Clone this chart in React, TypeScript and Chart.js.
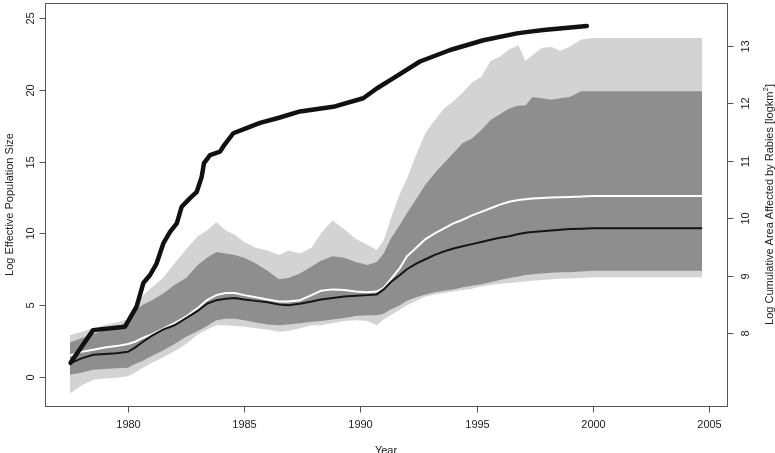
import React, { useEffect, useRef } from "react";
import { Chart, registerables } from "chart.js";

Chart.register(...registerables);

// Common year grid for the posterior bands and median/mean lines
const years = [
  1977.5, 1978, 1978.5, 1979, 1979.5, 1980, 1980.3, 1980.6, 1981, 1981.5, 1982, 1982.5, 1983, 1983.4,
  1983.8, 1984.2, 1984.6, 1985, 1985.5, 1986, 1986.5, 1986.9, 1987.4, 1987.9, 1988.3, 1988.8, 1989.3,
  1989.8, 1990.3, 1990.7, 1991, 1991.3, 1991.7, 1992, 1992.4, 1992.8, 1993.2, 1993.6, 1994, 1994.4,
  1994.8, 1995.2, 1995.6, 1996, 1996.4, 1996.8, 1997.1, 1997.4, 1997.8, 1998.2, 1998.6, 1999, 1999.5,
  2000, 2001, 2002, 2003, 2004, 2004.7,
];

const lightUpper = [
  2.9, 3.15, 3.4, 3.6, 3.8, 4.0, 4.7, 5.6, 6.2, 6.9, 7.9, 8.9, 9.8, 10.2,
  10.8, 10.2, 9.9, 9.4, 9.0, 8.8, 8.5, 8.8, 8.6, 9.0, 10.0, 10.9, 10.3,
  9.6, 9.2, 8.85, 9.5, 11.0, 12.8, 13.8, 15.5, 17.0, 17.9, 18.7, 19.2, 19.8,
  20.5, 20.9, 22.0, 22.3, 22.8, 23.1, 22.0, 22.4, 22.9, 23.0, 22.7, 23.0, 23.5,
  23.6, 23.6, 23.6, 23.6, 23.6, 23.6,
];

const lightLower = [
  -1.15, -0.6, -0.2, -0.1, -0.05, 0.05, 0.3, 0.6, 0.95, 1.35, 1.8, 2.3, 2.95, 3.3,
  3.6, 3.6, 3.55, 3.5, 3.4, 3.3, 3.15, 3.2, 3.4, 3.6, 3.6, 3.75, 3.9,
  3.95, 3.9, 3.6, 4.0, 4.3, 4.7, 5.0, 5.3, 5.6, 5.75, 5.85, 5.95, 6.05,
  6.15, 6.3, 6.4, 6.5, 6.55, 6.6, 6.65, 6.7, 6.75, 6.8, 6.85, 6.85, 6.9,
  6.94, 6.94, 6.94, 6.94, 6.94, 6.94,
];

const darkUpper = [
  2.4, 2.7, 3.0, 3.25, 3.5, 3.8, 4.6, 5.0, 5.3, 5.8, 6.4, 6.9, 7.8, 8.3,
  8.7, 8.6, 8.5, 8.3, 7.9, 7.4, 6.8, 6.9, 7.2, 7.7, 8.1, 8.4, 8.3,
  8.0, 7.8, 8.0, 8.6, 9.6, 10.6, 11.4, 12.4, 13.4, 14.2, 14.9, 15.6, 16.3,
  16.6, 17.2, 17.9, 18.3, 18.7, 18.9, 18.9, 19.5, 19.4, 19.3, 19.4, 19.5, 19.9,
  19.9, 19.9, 19.9, 19.9, 19.9, 19.9,
];

const darkLower = [
  0.15, 0.3, 0.5, 0.55, 0.6, 0.65, 0.9, 1.1, 1.45, 1.85, 2.3, 2.8, 3.2, 3.55,
  3.95, 4.05, 4.05, 3.95, 3.8, 3.65, 3.6, 3.65, 3.75, 3.85, 3.9, 4.0, 4.1,
  4.25, 4.3, 4.3, 4.4, 4.7, 5.0, 5.3, 5.55, 5.75, 5.9, 6.0, 6.1, 6.25,
  6.35, 6.45, 6.6, 6.75, 6.9, 7.0, 7.1, 7.15, 7.2, 7.25, 7.3, 7.3, 7.35,
  7.4, 7.4, 7.4, 7.4, 7.4, 7.4,
];

const whiteLine = [
  1.5, 1.75, 1.9, 2.05, 2.15, 2.3, 2.45, 2.7, 2.95, 3.35, 3.75, 4.2, 4.8, 5.35,
  5.7, 5.85, 5.85, 5.7, 5.55, 5.4, 5.25, 5.25, 5.35, 5.7, 6.0, 6.1, 6.05,
  5.95, 5.9, 5.95, 6.2, 6.8, 7.6, 8.4, 9.0, 9.6, 10.0, 10.35, 10.7, 10.95,
  11.25, 11.5, 11.75, 12.0, 12.2, 12.32, 12.37, 12.42, 12.47, 12.5, 12.52, 12.54, 12.56,
  12.6, 12.6, 12.6, 12.6, 12.6, 12.6,
];

const blackLine = [
  0.95, 1.3, 1.55, 1.6, 1.65, 1.75, 2.05, 2.4, 2.85, 3.3, 3.6, 4.1, 4.6, 5.1,
  5.35, 5.45, 5.5, 5.4, 5.3, 5.2, 5.05, 5.0, 5.1, 5.25, 5.4, 5.5, 5.6,
  5.65, 5.7, 5.75, 6.1, 6.6, 7.1, 7.5, 7.9, 8.2, 8.5, 8.75, 8.95, 9.1,
  9.25, 9.4, 9.55, 9.7, 9.8, 9.95, 10.05, 10.1, 10.15, 10.2, 10.25, 10.3, 10.33,
  10.35, 10.35, 10.35, 10.35, 10.35, 10.35,
];

// Cumulative area affected (right axis)
const areaYears = [
  1977.53, 1978.5, 1979.87, 1980.37, 1980.66, 1980.95, 1981.23, 1981.52, 1981.81, 1982.1, 1982.31,
  1982.67, 1982.96, 1983.17, 1983.27, 1983.53, 1983.96, 1984.1, 1984.53, 1985.1, 1985.68, 1986.5,
  1987.4, 1988.83, 1990.12, 1990.7, 1991.42, 1992.56, 1993.86, 1995.29, 1996.73, 1997.3, 1997.87,
  1999.74,
];
const areaValues = [
  7.48, 8.05, 8.11, 8.46, 8.87, 9.01, 9.21, 9.56, 9.76, 9.91, 10.2,
  10.35, 10.46, 10.72, 10.96, 11.1, 11.16, 11.25, 11.48, 11.57, 11.66, 11.75,
  11.86, 11.94, 12.09, 12.26, 12.44, 12.73, 12.93, 13.1, 13.22, 13.25, 13.28,
  13.35,
];

const xTicks = [1980, 1985, 1990, 1995, 2000, 2005];
const leftTicks = [0, 5, 10, 15, 20, 25];
const rightTicks = [8, 9, 10, 11, 12, 13];

const xTitle = "Year";
const leftTitle = "Log Effective Population Size";
const rightTitleMain = "Log Cumulative Area Affected by Rabies [logkm";
const rightTitleSup = "2";
const rightTitleEnd = "]";

const toPts = (xs: number[], ys: number[]) => xs.map((x, i) => ({ x, y: ys[i] }));

const FONT = "Liberation Sans, Arial, Helvetica, sans-serif";

const axesPlugin = {
  id: "rAxes",
  afterDraw(chart: any) {
    const { ctx, chartArea } = chart;
    const sx = chart.scales.x;
    const sy = chart.scales.y;
    const sy1 = chart.scales.y1;
    ctx.save();
    ctx.strokeStyle = "#555";
    ctx.lineWidth = 1;
    ctx.strokeRect(
      Math.round(chartArea.left) + 0.5,
      Math.round(chartArea.top) + 0.5,
      Math.round(chartArea.right - chartArea.left),
      Math.round(chartArea.bottom - chartArea.top)
    );
    const tl = 6;
    ctx.fillStyle = "#222";
    ctx.font = `11px ${FONT}`;
    ctx.textAlign = "center";
    ctx.textBaseline = "middle";
    // x ticks
    const bottom = Math.round(chartArea.bottom) + 0.5;
    xTicks.forEach((t) => {
      const px = Math.round(sx.getPixelForValue(t)) + 0.5;
      ctx.beginPath();
      ctx.moveTo(px, bottom);
      ctx.lineTo(px, bottom + tl);
      ctx.stroke();
      ctx.fillText(String(t), px, bottom + 18);
    });
    // left ticks
    const left = Math.round(chartArea.left) + 0.5;
    leftTicks.forEach((t) => {
      const py = Math.round(sy.getPixelForValue(t)) + 0.5;
      ctx.beginPath();
      ctx.moveTo(left, py);
      ctx.lineTo(left - tl, py);
      ctx.stroke();
      ctx.save();
      ctx.translate(left - 15, py);
      ctx.rotate(-Math.PI / 2);
      ctx.fillText(String(t), 0, 0);
      ctx.restore();
    });
    // right ticks
    const right = Math.round(chartArea.right) + 0.5;
    rightTicks.forEach((t) => {
      const py = Math.round(sy1.getPixelForValue(t)) + 0.5;
      ctx.beginPath();
      ctx.moveTo(right, py);
      ctx.lineTo(right + tl, py);
      ctx.stroke();
      ctx.save();
      ctx.translate(right + 18, py);
      ctx.rotate(-Math.PI / 2);
      ctx.fillText(String(t), 0, 0);
      ctx.restore();
    });
    const midY = (chartArea.top + chartArea.bottom) / 2;
    const midX = (chartArea.left + chartArea.right) / 2;
    // x title
    ctx.fillText(xTitle, midX, bottom + 44);
    // left title
    ctx.save();
    ctx.translate(10, midY);
    ctx.rotate(-Math.PI / 2);
    ctx.fillText(leftTitle, 0, 0);
    ctx.restore();
    // right title with superscript
    ctx.save();
    ctx.translate(right + 42, midY);
    ctx.rotate(-Math.PI / 2);
    ctx.textAlign = "left";
    ctx.font = `11px ${FONT}`;
    const w1 = ctx.measureText(rightTitleMain).width;
    const w3 = ctx.measureText(rightTitleEnd).width;
    ctx.font = `8px ${FONT}`;
    const w2 = ctx.measureText(rightTitleSup).width;
    const total = w1 + w2 + w3;
    let cx = -total / 2;
    ctx.font = `11px ${FONT}`;
    ctx.fillText(rightTitleMain, cx, 0);
    cx += w1;
    ctx.font = `8px ${FONT}`;
    ctx.fillText(rightTitleSup, cx, -4);
    cx += w2;
    ctx.font = `11px ${FONT}`;
    ctx.fillText(rightTitleEnd, cx, 0);
    ctx.restore();
    ctx.restore();
  },
};

export default function App() {
  const ref = useRef<HTMLCanvasElement | null>(null);
  useEffect(() => {
    if (!ref.current) return;
    const none = "rgba(0,0,0,0)";
    const base = { pointRadius: 0, tension: 0, borderWidth: 1 };
    const chart = new Chart(ref.current, {
      type: "line",
      data: {
        datasets: [
          {
            ...base,
            data: toPts(areaYears, areaValues),
            yAxisID: "y1",
            borderColor: "#111",
            borderWidth: 4.5,
            fill: false,
            borderJoinStyle: "round",
            borderCapStyle: "round",
          },
          { ...base, data: toPts(years, blackLine), yAxisID: "y", borderColor: "#151515", borderWidth: 2, fill: false },
          { ...base, data: toPts(years, whiteLine), yAxisID: "y", borderColor: "#ffffff", borderWidth: 2, fill: false },
          { ...base, data: toPts(years, darkUpper), yAxisID: "y", borderColor: none, backgroundColor: "#8e8e8e", fill: "+1" },
          { ...base, data: toPts(years, darkLower), yAxisID: "y", borderColor: none, fill: false },
          { ...base, data: toPts(years, lightUpper), yAxisID: "y", borderColor: none, backgroundColor: "#d3d3d3", fill: "+1" },
          { ...base, data: toPts(years, lightLower), yAxisID: "y", borderColor: none, fill: false },
        ],
      } as any,
      options: {
        animation: false,
        responsive: false,
        maintainAspectRatio: false,
        layout: { padding: { left: 45, top: 3, right: 48, bottom: 47 } },
        plugins: { legend: { display: false }, tooltip: { enabled: false } },
        scales: {
          x: { type: "linear", min: 1976.43, max: 2005.77, display: false },
          y: { type: "linear", min: -2.02, max: 26.04, display: false },
          y1: { type: "linear", position: "right", min: 6.728, max: 13.749, display: false },
        },
      } as any,
      plugins: [axesPlugin],
    });
    return () => chart.destroy();
  }, []);
  return (
    <div style={{ position: "fixed", left: 0, top: 0, width: 775, height: 453, background: "#fff" }}>
      <canvas ref={ref} width={775} height={453} style={{ display: "block" }} />
    </div>
  );
}
